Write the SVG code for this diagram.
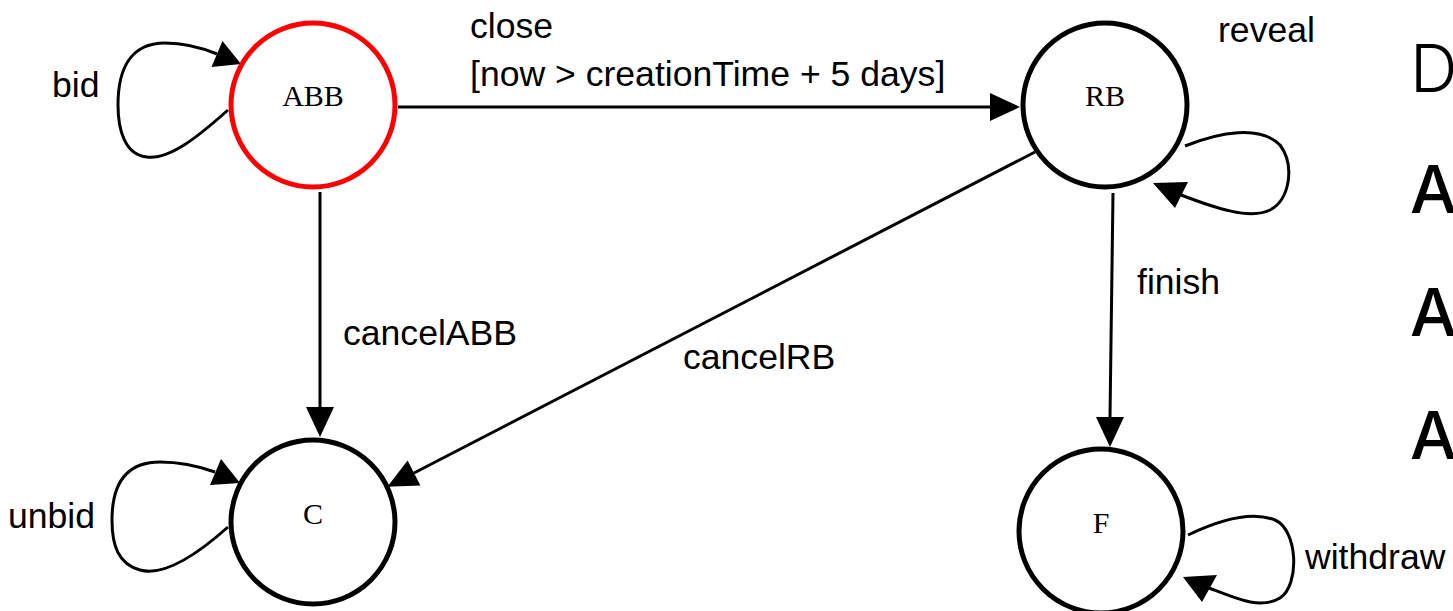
<svg xmlns="http://www.w3.org/2000/svg" width="1453" height="611" viewBox="0 0 1453 611">
<style>
.state{fill:#ffffff;stroke:#000000;stroke-width:5}
.start{stroke:#ff0000}
.nlabel{font-family:"Liberation Serif","Times New Roman",serif;font-size:30px;fill:#000;text-anchor:middle}
.elabel{font-family:"Liberation Sans",Arial,sans-serif;font-size:35.6px;fill:#000}
.edge{fill:none;stroke:#000;stroke-width:3}
.head{fill:#000;stroke:none}
.side{font-family:Inter,"Liberation Sans",sans-serif;font-size:66px;fill:#000}
</style>
<rect width="1453" height="611" fill="#ffffff"/>
<g id="connectors">
  <path class="edge" d="M 398 107 L 990 107"/>
  <polygon class="head" points="1020,107 990,93 990,121"/>
  <path class="edge" d="M 320 192 L 320 407"/>
  <polygon class="head" points="320,437 306,407 334,407"/>
  <path class="edge" d="M 1035 152 L 414 473"/>
  <polygon class="head" points="387.4,486.8 420.4,485.4 407.6,460.6"/>
  <path class="edge" d="M 1113 193 L 1110 417"/>
  <polygon class="head" points="1110,447 1096,417 1124,417"/>
  <path class="edge" d="M 228 110 C 200 135, 170 160, 147 157 C 125 155, 118 130, 118 105 C 118 70, 130 43, 165 43 C 185 43, 200 47, 217 54"/>
  <polygon class="head" points="241,64 211.5,66.9 222.5,41.1"/>
  <path class="edge" d="M 228 527 C 200 552, 165 577, 140 570 C 118 564, 112 545, 112 520 C 112 485, 125 462, 160 462 C 180 462, 198 466, 215 472"/>
  <polygon class="head" points="240,483 210,485 221,459"/>
  <path class="edge" d="M 1185 146 C 1220 132, 1260 125, 1280 145 C 1295 165, 1290 200, 1270 210 C 1250 220, 1215 208, 1181 195"/>
  <polygon class="head" points="1153,183 1188,182 1175,208"/>
  <path class="edge" d="M 1188 535 C 1215 522, 1250 510, 1275 520 C 1298 530, 1300 585, 1280 598 C 1260 610, 1235 598, 1209 588"/>
  <polygon class="head" points="1183,577 1217,575 1202,602"/>
</g>
<g id="labels">
  <text class="elabel" x="470" y="38">close</text>
  <text class="elabel" x="470" y="86">[now &gt; creationTime + 5 days]</text>
  <text class="elabel" x="52" y="97">bid</text>
  <text class="elabel" x="343" y="345">cancelABB</text>
  <text class="elabel" x="683" y="369">cancelRB</text>
  <text class="elabel" x="1137" y="294">finish</text>
  <text class="elabel" x="1218" y="42">reveal</text>
  <text class="elabel" x="8" y="528">unbid</text>
  <text class="elabel" x="1305" y="569">withdraw</text>
</g>
<g id="node-ABB">
  <circle class="state start" cx="313" cy="105" r="82"/>
  <text class="nlabel" x="313" y="106">ABB</text>
</g>
<g id="node-RB">
  <circle class="state" cx="1105" cy="105" r="82"/>
  <text class="nlabel" x="1105" y="106">RB</text>
</g>
<g id="node-C">
  <circle class="state" cx="313" cy="522" r="82"/>
  <text class="nlabel" x="313" y="524">C</text>
</g>
<g id="node-F">
  <circle class="state" cx="1101" cy="531" r="82"/>
  <text class="nlabel" x="1101" y="533">F</text>
</g>
<g id="side-text">
  <text class="side" x="1410" y="92" font-weight="300">D</text>
  <text class="side" x="1410" y="213" font-weight="500">A</text>
  <text class="side" x="1410" y="336" font-weight="500">A</text>
  <text class="side" x="1410" y="459" font-weight="500">A</text>
</g>
</svg>
